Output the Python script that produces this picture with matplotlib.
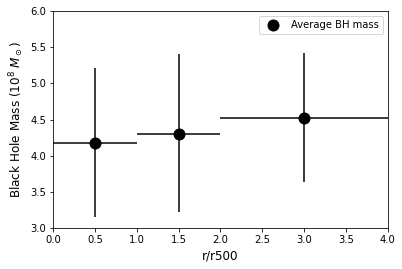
import matplotlib
matplotlib.use("Agg")
import matplotlib.pyplot as plt
import numpy as np

# bin centres, half-widths and average BH mass (1e8 Msun)
r_mid = np.array([0.5, 1.5, 3.0])
r_halfwidth = np.array([0.5, 0.5, 1.0])
bh_mass = np.array([4.17, 4.30, 4.52])
err_low = np.array([1.02, 1.08, 0.88])
err_high = np.array([1.04, 1.11, 0.90])

fig = plt.figure(figsize=(402 / 72, 269 / 72), dpi=72)
ax = fig.add_axes([0.132, 0.152, 0.833, 0.807])

ax.errorbar(r_mid, bh_mass, xerr=r_halfwidth, yerr=[err_low, err_high],
            fmt='none', ecolor='#404040', elinewidth=2)
ax.plot(r_mid, bh_mass, 'o', color='black', markersize=11, label='Average BH mass')

ax.set_xlim(0, 4)
ax.set_ylim(3, 6)
ax.set_xticks(np.arange(0, 4.01, 0.5))
ax.set_yticks(np.arange(3, 6.01, 0.5))
ax.tick_params(labelsize=10)
ax.set_xlabel('r/r500', fontsize=12)
ax.set_ylabel(r'Black Hole Mass (10$^8$ $M_\odot$)', fontsize=12)
ax.legend(loc='upper right', fontsize=10)

fig.savefig('out.png', dpi=72)
